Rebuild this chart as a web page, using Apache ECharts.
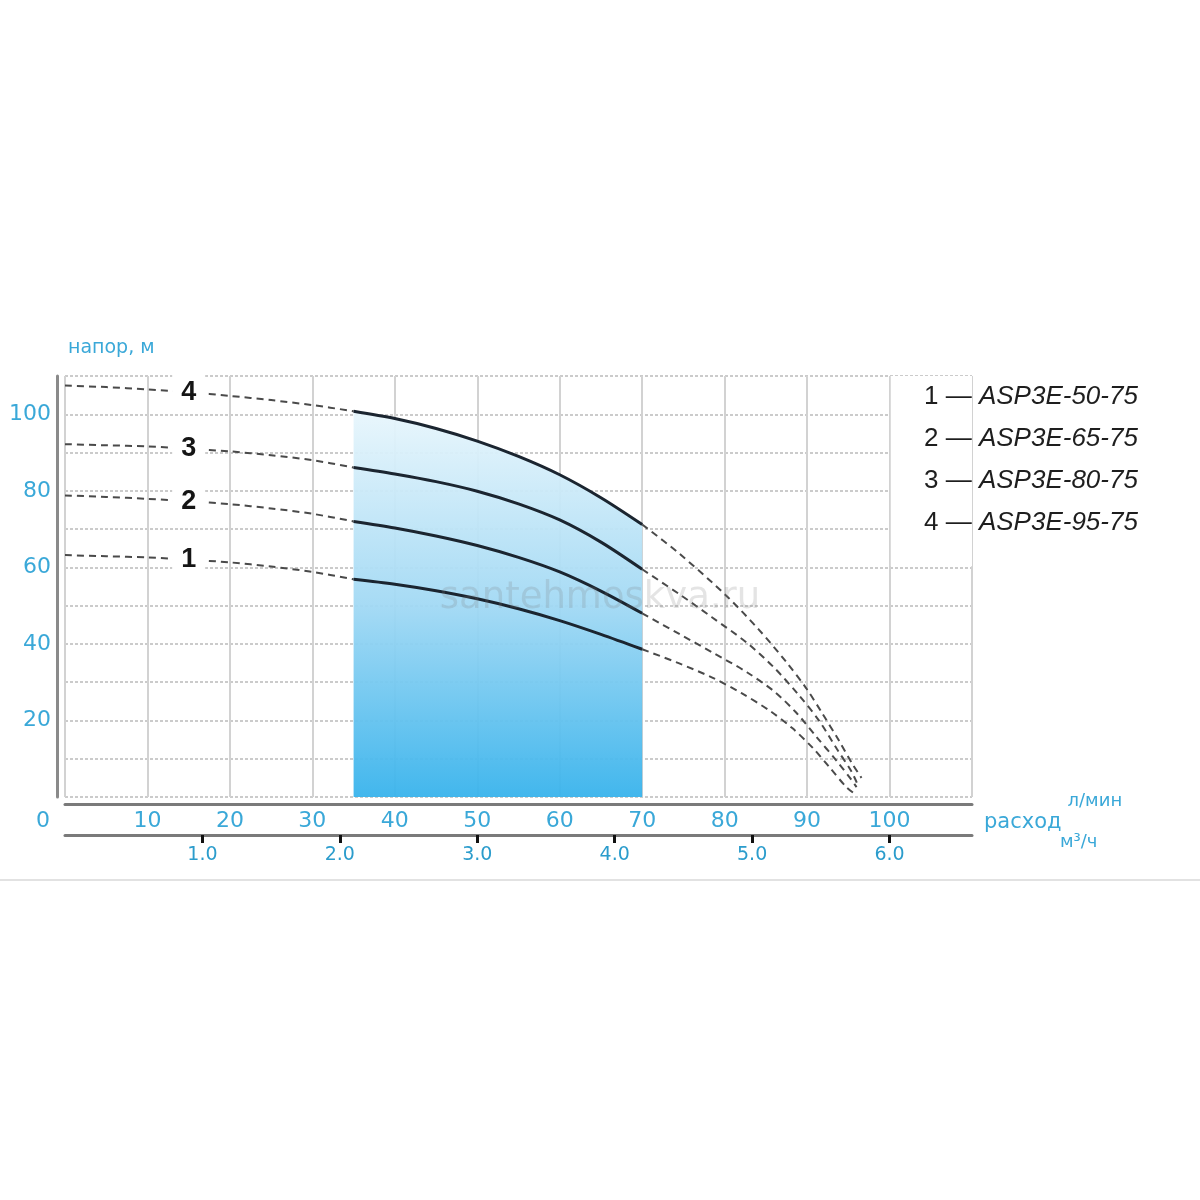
<!DOCTYPE html>
<html>
<head>
<meta charset="utf-8">
<script src="https://cdn.jsdelivr.net/npm/echarts@6/dist/echarts.min.js"></script>
<style>html,body{margin:0;padding:0;background:#fff;}#chart{width:1200px;height:1200px;}</style>
</head>
<body>
<div id="chart"></div>
<script>
// ---- data: flow (l/min) vs head (m) ----
const curve1Left  = [[0,63.2],[5,62.9],[10,62.6],[15,62.0],[20,61.3],[25,60.2],[30,58.8],[35,56.9]];
const curve1Mid   = [[35,56.9],[40,55.6],[45,53.9],[50,51.8],[55,49.2],[60,46.1],[65,42.5],[70,38.6]];
const curve1Right = [[70,38.6],[74.5,34.9],[78.5,31.2],[82,27.2],[85.5,22.5],[88.2,18.0],[90.7,12.8],[92.7,7.8],[94.8,2.5],[95.8,0.8]];

const curve2Left  = [[0,78.8],[5,78.4],[10,77.9],[15,77.3],[20,76.5],[25,75.4],[30,74.0],[35,72.0]];
const curve2Mid   = [[35,72.0],[40,70.3],[45,68.2],[50,65.7],[55,62.6],[60,58.8],[65,53.8],[70,48.0]];
const curve2Right = [[70,48.0],[74.5,42.6],[78.5,37.8],[82.7,32.6],[86,27.6],[88.7,22.0],[91.1,15.8],[93.6,9.4],[95.2,5.0],[96.0,2.6]];

const curve3Left  = [[0,92.2],[5,91.9],[10,91.6],[15,91.0],[20,90.3],[25,89.3],[30,88.0],[35,86.1]];
const curve3Mid   = [[35,86.1],[40,84.4],[45,82.4],[50,79.9],[55,76.6],[60,72.4],[65,66.6],[70,59.5]];
const curve3Right = [[70,59.5],[74.5,53.0],[78.5,46.9],[82.7,40.3],[86,33.8],[89,26.6],[91.5,19.8],[93.6,12.6],[95.4,6.6],[96.1,3.4]];

const curve4Left  = [[0,107.5],[5,107.1],[10,106.5],[15,105.8],[20,104.8],[25,103.7],[30,102.4],[35,100.8]];
const curve4Mid   = [[35,100.8],[40,98.9],[45,96.3],[50,93.0],[55,89.0],[60,84.2],[65,78.2],[70,71.2]];
const curve4Right = [[70,71.2],[74.5,63.6],[80.2,52.6],[84.2,43.6],[87.5,35.2],[89.9,28.4],[91.8,22.0],[93.9,14.6],[95.5,8.6],[96.6,5.0]];

const curveNumbers = ['1','2','3','4'];
const modelNames = ['ASP3E-50-75','ASP3E-65-75','ASP3E-80-75','ASP3E-95-75'];
const curveLabelFlow = 15;

const flowTickLabels = [0,10,20,30,40,50,60,70,80,90,100];
const m3hTickLabels = [1,2,3,4,5,6];
const headTickLabels = [20,40,60,80,100];

// ---- styling ----
const BLUE = '#3aa8d8';
const FONT = 'DejaVu Sans';
const dashStyle = {color:'#4a4a4a', width:2, type:[7,5]};
const solidStyle = {color:'#1b2530', width:3};
const SMOOTH = 0.3;

const lefts = [curve1Left, curve2Left, curve3Left, curve4Left];
const mids = [curve1Mid, curve2Mid, curve3Mid, curve4Mid];
const rights = [curve1Right, curve2Right, curve3Right, curve4Right];

const series = [];

// blue operating-range fill under curve 4
series.push({
  type:'line', data: curve4Mid, smooth:SMOOTH, symbol:'none', silent:true,
  lineStyle:{width:0}, z:1, clip:false,
  areaStyle:{opacity:0.95, color: new echarts.graphic.LinearGradient(0,0,0,1,[
    {offset:0,color:'#e8f6fc'},{offset:0.5,color:'#a2d9f4'},{offset:1,color:'#38b3ec'}])},
  markArea:{silent:true, itemStyle:{color:'#ffffff', opacity:1},
    data:[[{coord:[100.15,60.3]},{coord:[113,114]}]]}
});

for (let i=0;i<4;i++){
  const lp = lefts[i].find(p => p[0]===curveLabelFlow);
  series.push({
    type:'line', data: lefts[i], smooth:SMOOTH, symbol:'none', lineStyle:dashStyle, z:3, silent:true,
    markPoint:{symbol:'rect', symbolSize:1, itemStyle:{color:'rgba(0,0,0,0)'}, silent:true,
      label:{show:true, position:'inside', formatter: curveNumbers[i], fontFamily:'Liberation Sans',
        fontSize:27, fontWeight:'bold', color:'#151515', backgroundColor:'#ffffff', padding:[6,9,6,9]},
      data:[{coord: lp}]}
  });
  series.push({
    name: modelNames[i], type:'line', data: mids[i], smooth:SMOOTH, symbol:'none', lineStyle:solidStyle, z:4, silent:true
  });
  series.push({
    type:'line', data: rights[i], smooth:SMOOTH, symbol:'none', lineStyle:dashStyle, z:3, silent:true
  });
}

const chart = echarts.init(document.getElementById('chart'), null, {renderer:'canvas'});
chart.setOption({
  backgroundColor:'#ffffff',
  animation:false,
  grid:{left:65, right:228, top:376, bottom:403, containLabel:false},
  legend:{
    show:true, selectedMode:false, orient:'vertical', left:914, top:377,
    data: modelNames, icon:'none', itemWidth:0, itemHeight:0, itemGap:12,
    formatter: name => '{n|' + curveNumbers[modelNames.indexOf(name)] + ' — }{m|' + name + '}',
    textStyle:{lineHeight:30, rich:{
      n:{fontFamily:'Liberation Sans', fontSize:26, color:'#1e1e1e', lineHeight:30},
      m:{fontFamily:'Liberation Sans', fontSize:26, fontStyle:'italic', color:'#1e1e1e', lineHeight:30}
    }}
  },
  xAxis:[{
    type:'value', position:'bottom', min:0, max:110, interval:10, offset:7,
    axisLine:{show:true, onZero:false, lineStyle:{color:'#7a7a7a', width:3}},
    axisTick:{show:false},
    axisLabel:{show:true, customValues: flowTickLabels, margin:6, color:BLUE, fontFamily:FONT, fontSize:22,
      formatter: v => v===0 ? '{z|0}' : String(v),
      rich:{z:{color:BLUE, fontFamily:FONT, fontSize:22, padding:[0,44,0,0]}}},
    splitLine:{show:true, lineStyle:{color:'#d2d2d2', width:2}},
    name:'{a|расход}{b|л/мин}', nameLocation:'end', nameGap:12,
    nameTextStyle:{padding:[8,0,0,0], rich:{
      a:{color:BLUE, fontFamily:FONT, fontSize:21, padding:[30,0,0,0]},
      b:{color:BLUE, fontFamily:FONT, fontSize:18, padding:[0,0,14,6]}
    }}
  },{
    type:'value', position:'bottom', min:0, max:6.6, interval:1, offset:38,
    axisLine:{show:true, onZero:false, lineStyle:{color:'#7a7a7a', width:3}},
    axisTick:{show:true, customValues: m3hTickLabels, inside:false, length:8, lineStyle:{color:'#111', width:3}},
    axisLabel:{show:true, customValues: m3hTickLabels, margin:11, color:'#2b9ccc', fontFamily:FONT, fontSize:19,
      formatter: v => v.toFixed(1)},
    splitLine:{show:false},
    name:'{c|м³/ч}', nameLocation:'end', nameGap:88,
    nameTextStyle:{rich:{c:{color:BLUE, fontFamily:FONT, fontSize:18, padding:[14,0,0,0]}}}
  }],
  yAxis:{
    type:'value', min:0, max:110, interval:10, offset:8,
    axisLine:{show:true, onZero:false, lineStyle:{color:'#8a8a8a', width:3}},
    axisTick:{show:false},
    axisLabel:{show:true, customValues: headTickLabels, margin:6, color:BLUE, fontFamily:FONT, fontSize:22},
    splitLine:{show:true, lineStyle:{color:'#cbcbcb', width:2, type:[3,2]}},
    name:'напор, м', nameLocation:'end', nameGap:18,
    nameTextStyle:{color:BLUE, fontFamily:FONT, fontSize:19, align:'left', padding:[0,0,0,11]}
  },
  graphic:[
    {type:'text', left:'center', top:580, silent:true, z:10,
      style:{text:'santehmoskva.ru', fill:'rgba(120,120,120,0.2)', font:'37px "DejaVu Sans"'}},
    {type:'line', silent:true, shape:{x1:0, y1:880, x2:1200, y2:880}, style:{stroke:'#e2e2e2', lineWidth:2}}
  ],
  series: series
});
</script>
</body>
</html>
